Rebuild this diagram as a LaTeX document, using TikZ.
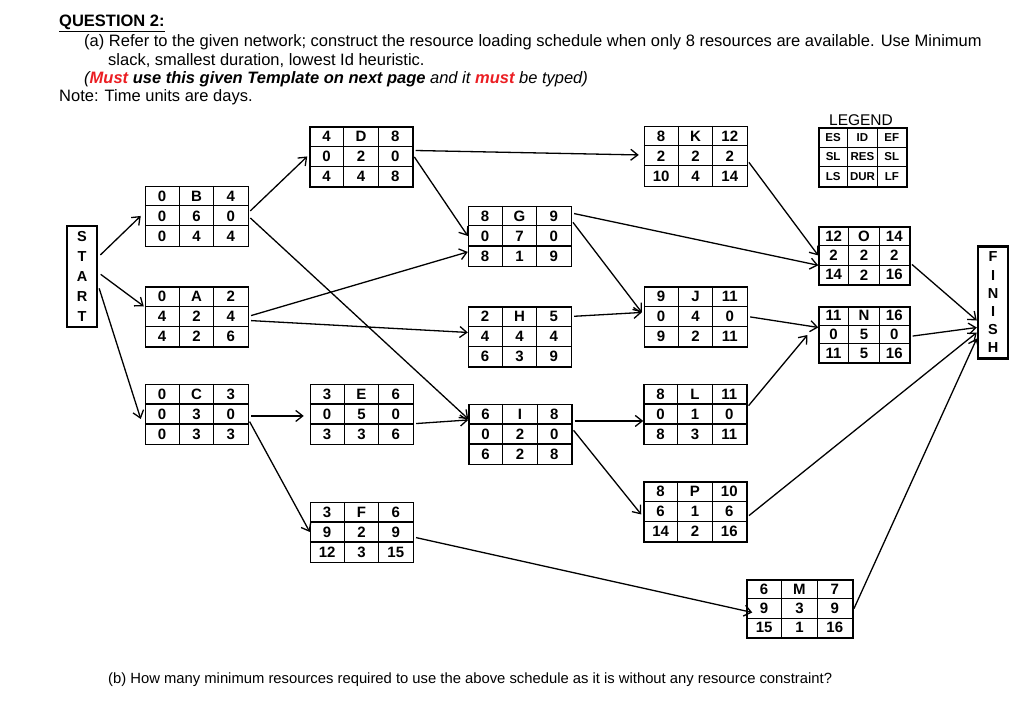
\documentclass[tikz,border=0pt]{standalone}
\usepackage{fontspec}
\setmainfont{Liberation Sans}
\usetikzlibrary{calc,arrows.meta}
\definecolor{mustred}{RGB}{235,30,35}
\newcommand\bh{60}
\newcommand\abox[6][103]{%
  \node[frame, minimum width=#1pt, minimum height=\bh pt] (#2) at (#3) {};
  \draw[gridline] ($(#2.north west)+(0,\bh/3)$) -- ++(#1,0);
  \draw[gridline] ($(#2.north west)+(0,2*\bh/3)$) -- ++(#1,0);
  \draw[gridline] ($(#2.north west)+(#1/3,0)$) -- ++(0,\bh);
  \draw[gridline] ($(#2.north west)+(2*#1/3,0)$) -- ++(0,\bh);
  \foreach \t [count=\i] in {#4} {\node[cellcur, minimum width={#1pt/3}, minimum height={\bh pt/3}] (#2-1\i) at ($(#2.north west)+({(\i-0.5)*#1/3},{\bh/6})$) {\t};}
  \foreach \t [count=\i] in {#5} {\node[cellcur, minimum width={#1pt/3}, minimum height={\bh pt/3}] (#2-2\i) at ($(#2.north west)+({(\i-0.5)*#1/3},{\bh/2})$) {\t};}
  \foreach \t [count=\i] in {#6} {\node[cellcur, minimum width={#1pt/3}, minimum height={\bh pt/3}] (#2-3\i) at ($(#2.north west)+({(\i-0.5)*#1/3},{5*\bh/6})$) {\t};}
}
\begin{document}
\begin{tikzpicture}[x=1pt,y=-1pt,
  cell/.style={font=\fontsize{15}{15}\selectfont\bfseries, inner sep=0pt},
  lcell/.style={font=\fontsize{11.5}{12}\selectfont\bfseries, inner sep=0pt},
  cellcur/.style={cell},
  frame/.style={draw, line width=1.1pt, inner sep=0pt},
  gridline/.style={line width=1.1pt},
  arr/.style={-{Straight Barb[length=7pt,width=11pt,line width=1.3pt]}, line width=1.3pt, shorten <=3pt},
  endbox/.style={draw, line width=2.5pt, inner sep=0pt, align=center},
  txt/.style={anchor=base west, inner sep=0pt, font=\fontsize{16.5}{18}\selectfont},
]
\useasboundingbox (0,0) rectangle (1024,719);

% texts
\node[txt, font=\fontsize{16.5}{18}\selectfont\bfseries] (title) at (59,27) {\underline{QUESTION 2:}};
\node[txt] (qa) at (84,47) {(a) Refer to the given network; construct the resource loading schedule when only 8 resources are available. Use Minimum};
\node[txt] (qa2) at (108,66) {slack, smallest duration, lowest Id heuristic.};
\node[txt] (must) at (84,84) {\itshape (\textcolor{mustred}{\bfseries Must} \bfseries use this given Template on next page\mdseries{} and it \textcolor{mustred}{\bfseries must} be typed)};
\node[txt] (note) at (59,102) {Note: Time units are days.};
\node[txt, font=\fontsize{14.8}{16}\selectfont] (qb) at (108,683) {(b) How many minimum resources required to use the above schedule as it is without any resource constraint?};

% start / finish
\node[endbox, minimum width=30pt, minimum height=101pt, font=\fontsize{14.5}{20}\selectfont\bfseries] (START) at (82,276.5) {S\\T\\A\\R\\T};
\node[endbox, minimum width=30pt, minimum height=112pt, font=\fontsize{14.5}{18.2}\selectfont\bfseries] (FINISH) at (993,302.5) {F\\I\\N\\I\\S\\H};

% activity boxes
\abox{B}{197,216.5}{0,B,4}{0,6,0}{0,4,4}
\abox{A}{197,317}{0,A,2}{4,2,4}{4,2,6}
\abox{C}{197,414.5}{0,C,3}{0,3,0}{0,3,3}
\abox{D}{361.5,157}{4,D,8}{0,2,0}{4,4,8}
\abox{E}{362,414.5}{3,E,6}{0,5,0}{3,3,6}
\abox{F}{362,532.5}{3,F,6}{9,2,9}{12,3,15}
\abox{G}{520,236.5}{8,G,9}{0,7,0}{8,1,9}
\abox{H}{520,337}{2,H,5}{4,4,4}{6,3,9}
\abox{I}{520.5,434.5}{6,I,8}{0,2,0}{6,2,8}
\abox{K}{696,156.5}{8,K,12}{2,2,2}{10,4,14}
\abox{J}{696,317}{9,J,11}{0,4,0}{9,2,11}
\abox{L}{695.5,414.5}{8,L,11}{0,1,0}{8,3,11}
\abox{P}{695.5,512}{8,P,10}{6,1,6}{14,2,16}
\renewcommand\bh{58}
\abox[106]{M}{800,609}{6,M,7}{9,3,9}{15,1,16}
\abox[91]{O}{864.5,256}{12,O,14}{2,2,2}{14,2,16}
\renewcommand\bh{56}
\abox[91]{N}{864.5,335}{11,N,16}{0,5,0}{11,5,16}
\renewcommand\bh{59}
\tikzset{cellcur/.style={lcell}}
\abox[88]{LEG}{863,157.5}{ES,ID,EF}{SL,RES,SL}{LS,DUR,LF}
\node[font=\fontsize{15.5}{16}\selectfont, inner sep=0pt, anchor=south] (legtitle) at ($(LEG.north)+(-2,-1.5)$) {LEGEND};

% connectors
\draw[arr] ([yshift=19.5pt]START.east) -- ([xshift=-4pt]B-21.west);
\draw[arr] ([yshift=4pt]START.east) -- ([xshift=-1pt]A-21.north west);
\draw[arr] ([yshift=-9pt]START.east) -- ([xshift=-4pt,yshift=-5pt]C-21.west);
\draw[arr] ([yshift=3pt]B-23.east) -- ([xshift=-2pt]D-21.west);
\draw[arr] (B-23.east) -- ([yshift=-5pt]I-11.west);
\draw[arr] (A-23.east) -- ([yshift=4pt]G-31.west);
\draw[arr] ([yshift=-4pt]A-23.east) -- ([yshift=4pt]H-21.west);
\draw[arr] ([yshift=6pt]D-23.east) -- ([yshift=1pt,xshift=-5pt]K-21.west);
\draw[arr] ([yshift=2pt]D-23.east) -- (G-21.west);
\draw[arr] ([yshift=-4pt]G-13.east) -- ([yshift=4pt,xshift=-2pt]J-21.west);
\draw[arr] ([yshift=3pt]G-13.east) -- (O-21.south west);
\draw[arr] (H-13.east) -- ([yshift=4pt,xshift=-2pt]J-21.west);
\draw[arr] ([yshift=-4pt]K-23.east) -- (O-21.west);
\draw[arr] (J-23.east) -- ([yshift=7pt]N-21.west);
\draw[arr] ([yshift=6pt]L-23.east) -- ([xshift=-11pt]N.west);
\draw[arr] ([yshift=-2pt]C-23.east) -- ([xshift=-6pt,yshift=-2pt]E-21.west);
\draw[arr] ([yshift=-5pt]C-23.east) -- (F-21.west);
\draw[arr] (E-33.north east) -- ([yshift=-6pt]I-11.west);
\draw[arr] ([yshift=-7pt]I-13.east) -- ([yshift=-7pt]L-21.west);
\draw[arr] ([yshift=6pt]I-23.east) -- ([xshift=-2pt,yshift=-3pt]P-21.west);
\draw[arr] ([yshift=-5pt]F-23.east) -- ([yshift=-4pt,xshift=6pt]M-21.west);
\draw[arr] ([yshift=-7pt]O-23.east) -- ([yshift=-18pt]FINISH.west);
\draw[arr] ([yshift=-2pt]N-23.east) -- ([yshift=-25pt]FINISH.west);
\draw[arr] ([yshift=-6pt]P-23.east) -- ([yshift=-30pt]FINISH.west);
\draw[arr] ([yshift=-3pt]M-23.east) -- ([yshift=-36pt]FINISH.west);
\end{tikzpicture}
\end{document}
